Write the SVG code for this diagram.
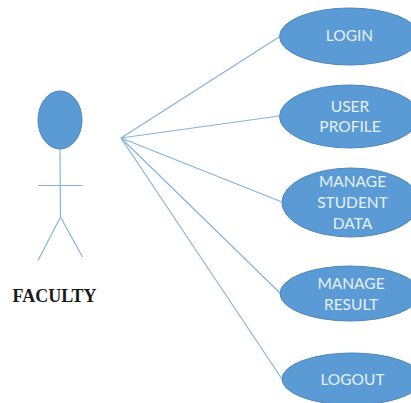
<svg xmlns="http://www.w3.org/2000/svg" width="411" height="403" viewBox="0 0 411 403">
<style>
.u{fill:#5b9bd5;stroke:#4f86b8;stroke-width:1}
.l{fill:none;stroke:#85b3de;stroke-width:1.2}
.t{font-family:"Lato","Open Sans",sans-serif;font-size:15.5px;fill:#e6f0f9;text-anchor:middle}
.a{font-family:"Liberation Serif",serif;font-size:18px;font-weight:bold;fill:#1a1a1a}
</style>
<rect width="411" height="403" fill="#fff"/>
<g id="connectors" class="l">
<path d="M121 138L279 37"/>
<path d="M121 138L279 116"/>
<path d="M121 138L282 202"/>
<path d="M121 138L280 293"/>
<path d="M121 138L282 379"/>
</g>
<g id="faculty">
<g class="l"><path d="M60 149L60.500 217M38 185.500H82.500M60.500 217L38 260.500M60.500 217L82.500 257"/></g>
<ellipse class="u" cx="60" cy="120" rx="22" ry="29"/>
<text class="a" x="12.500" y="302">FACULTY</text>
</g>
<g id="login"><ellipse class="u" cx="349.500" cy="36.500" rx="70" ry="28.500"/><text class="t" x="349.500" y="41">LOGIN</text></g>
<g id="user-profile"><ellipse class="u" cx="349.500" cy="116.500" rx="70" ry="31.500"/><text class="t" x="350" y="111.500">USER</text><text class="t" x="350" y="132">PROFILE</text></g>
<g id="manage-student-data"><ellipse class="u" cx="351" cy="202.500" rx="69" ry="34.500"/><text class="t" x="352.500" y="187">MANAGE</text><text class="t" x="352.500" y="208">STUDENT</text><text class="t" x="352.500" y="229">DATA</text></g>
<g id="manage-result"><ellipse class="u" cx="350" cy="293.500" rx="70" ry="27.500"/><text class="t" x="351" y="289">MANAGE</text><text class="t" x="351" y="309.500">RESULT</text></g>
<g id="logout"><ellipse class="u" cx="352" cy="379" rx="70" ry="26"/><text class="t" x="352.500" y="385">LOGOUT</text></g>
</svg>
